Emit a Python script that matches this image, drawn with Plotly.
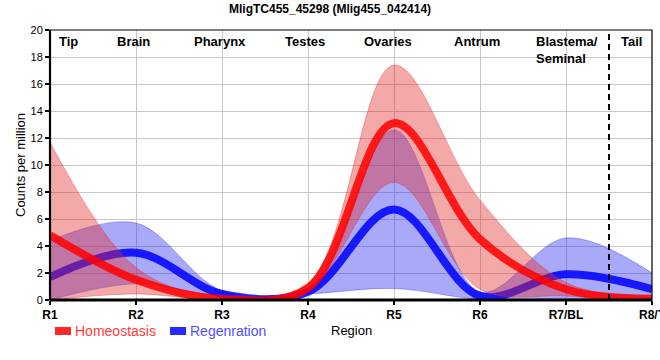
import plotly.graph_objects as go

regions = ["R1", "R2", "R3", "R4", "R5", "R6", "R7/BL", "R8/T"]
x_idx = list(range(len(regions)))

homeo_mean = [4.8, 1.5, 0.08, 0.9, 13.1, 4.5, 0.8, 0.1]
homeo_upper = [11.7, 2.4, 0.15, 1.2, 17.4, 7.4, 1.3, 0.2]
homeo_lower = [0.0, 0.45, 0.0, 0.7, 8.7, 0.8, 0.3, 0.0]

regen_mean = [1.7, 3.5, 0.45, 0.6, 6.7, 0.3, 1.9, 0.8]
regen_upper = [4.4, 5.7, 0.7, 0.8, 12.6, 0.6, 4.6, 2.0]
regen_lower = [0.0, 1.2, 0.25, 0.45, 0.85, 0.05, 0.1, 0.0]

section_labels = ["Tip", "Brain", "Pharynx", "Testes", "Ovaries", "Antrum", "Blastema/<br>Seminal", "Tail"]
section_x = [0.22, 0.97, 1.98, 2.96, 3.93, 4.97, 5.63, 6.76]
section_anchor = ["center", "center", "center", "center", "center", "center", "left", "center"]

FONT = "Liberation Sans, Arial, sans-serif"
RED_FILL = "rgba(228,40,40,0.40)"
BLUE_FILL = "rgba(40,40,240,0.40)"
RED_LINE = "rgba(255,0,0,0.86)"
BLUE_LINE = "rgba(0,0,255,0.86)"

W, H = 660, 360
L, R, T, B = 50, 8, 30, 60
pw, ph = W - L - R, H - T - B


def px_x(px):
    return (px - L) / pw


def px_y(py):
    return (T + ph - py) / ph


fig = go.Figure()
spl = dict(shape="spline", smoothing=1.0)

# Regeneration band + line
fig.add_trace(go.Scatter(x=x_idx, y=regen_lower, mode="lines",
                         line=dict(color="rgba(40,40,240,0.35)", width=1, **spl),
                         showlegend=False, hoverinfo="skip"))
fig.add_trace(go.Scatter(x=x_idx, y=regen_upper, mode="lines", fill="tonexty",
                         fillcolor=BLUE_FILL,
                         line=dict(color="rgba(40,40,240,0.35)", width=1, **spl),
                         showlegend=False, hoverinfo="skip"))
fig.add_trace(go.Scatter(x=x_idx, y=regen_mean, mode="lines", name="Regenration",
                         line=dict(color=BLUE_LINE, width=8, **spl), showlegend=False))

# Homeostasis band + line
fig.add_trace(go.Scatter(x=x_idx, y=homeo_lower, mode="lines",
                         line=dict(color="rgba(228,40,40,0.35)", width=1, **spl),
                         showlegend=False, hoverinfo="skip"))
fig.add_trace(go.Scatter(x=x_idx, y=homeo_upper, mode="lines", fill="tonexty",
                         fillcolor=RED_FILL,
                         line=dict(color="rgba(228,40,40,0.35)", width=1, **spl),
                         showlegend=False, hoverinfo="skip"))
fig.add_trace(go.Scatter(x=x_idx, y=homeo_mean, mode="lines", name="Homeostasis",
                         line=dict(color=RED_LINE, width=8, **spl), showlegend=False))

annotations = []
for lab, sx, anc in zip(section_labels, section_x, section_anchor):
    annotations.append(dict(x=sx, y=px_y(32), xref="x", yref="paper", text="<b>" + lab + "</b>",
                            showarrow=False, xanchor=anc, yanchor="top", align="left",
                            font=dict(family=FONT, size=13, color="black")))

annotations += [
    # title
    dict(x=px_x(330), y=px_y(9), xref="paper", yref="paper",
         text="<b>MligTC455_45298 (Mlig455_042414)</b>", showarrow=False,
         xanchor="center", yanchor="middle",
         font=dict(family=FONT, size=12, color="black")),
    # axis titles
    dict(x=0.5, y=px_y(331), xref="paper", yref="paper", text="Region", showarrow=False,
         xanchor="center", yanchor="middle", font=dict(family=FONT, size=13, color="black")),
    dict(x=px_x(20), y=0.5, xref="paper", yref="paper", text="Counts per million",
         showarrow=False, textangle=-90, xanchor="center", yanchor="middle",
         font=dict(family=FONT, size=13, color="black")),
    # legend text
    dict(x=px_x(73), y=px_y(331), xref="paper", yref="paper",
         text="Homeostasis", showarrow=False, xanchor="left", yanchor="middle",
         font=dict(family=FONT, size=14, color="rgb(255,60,60)")),
    dict(x=px_x(188), y=px_y(331), xref="paper", yref="paper",
         text="Regenration", showarrow=False, xanchor="left", yanchor="middle",
         font=dict(family=FONT, size=14, color="rgb(80,80,255)")),
]

shapes = [
    # legend swatches
    dict(type="rect", xref="paper", yref="paper",
         x0=px_x(55), x1=px_x(71), y0=px_y(335), y1=px_y(327),
         fillcolor="rgb(255,40,40)", line=dict(width=0)),
    dict(type="rect", xref="paper", yref="paper",
         x0=px_x(170), x1=px_x(186), y0=px_y(335), y1=px_y(327),
         fillcolor="rgb(40,40,255)", line=dict(width=0)),
    # frame
    dict(type="rect", xref="paper", yref="paper", x0=0, x1=1, y0=0, y1=1,
         line=dict(color="black", width=1.2), layer="above"),
    # thick left & bottom axes
    dict(type="line", xref="paper", yref="paper", x0=0, x1=0, y0=0, y1=1,
         line=dict(color="black", width=2.2), layer="above"),
    dict(type="line", xref="paper", yref="paper", x0=0, x1=1, y0=0, y1=0,
         line=dict(color="black", width=2.8), layer="above"),
    # dashed separator between R7 and R8
    dict(type="line", xref="x", yref="paper", x0=6.5, x1=6.5, y0=0, y1=1,
         line=dict(color="black", width=2, dash="6px,4px"), layer="above"),
]

fig.update_layout(
    width=W, height=H,
    margin=dict(l=L, r=R, t=T, b=B, autoexpand=False),
    paper_bgcolor="white", plot_bgcolor="white",
    font=dict(family=FONT, size=12, color="black"),
    showlegend=False,
    annotations=annotations,
    shapes=shapes,
)

fig.update_xaxes(range=[0, 7], tickmode="array", tickvals=x_idx,
                 ticktext=["<b>" + r + "</b>" for r in regions],
                 showgrid=True, gridcolor="rgb(200,200,200)", gridwidth=1,
                 zeroline=False, showline=False, automargin=False,
                 ticklabeloverflow="allow",
                 ticks="outside", ticklen=4, tickcolor="black", tickwidth=1.5,
                 tickfont=dict(family=FONT, size=12, color="black"))
fig.update_yaxes(range=[0, 20], tickmode="array", tickvals=list(range(0, 21, 2)),
                 showgrid=True, gridcolor="rgb(200,200,200)", gridwidth=1,
                 zeroline=False, showline=False, automargin=False,
                 ticks="outside", ticklen=4, tickcolor="black", tickwidth=1.5,
                 tickfont=dict(family=FONT, size=11, color="black"))

fig.write_html("out.html",
               config={"displayModeBar": False},
               post_script="document.body.style.margin='0px';document.body.style.overflow='hidden';")
